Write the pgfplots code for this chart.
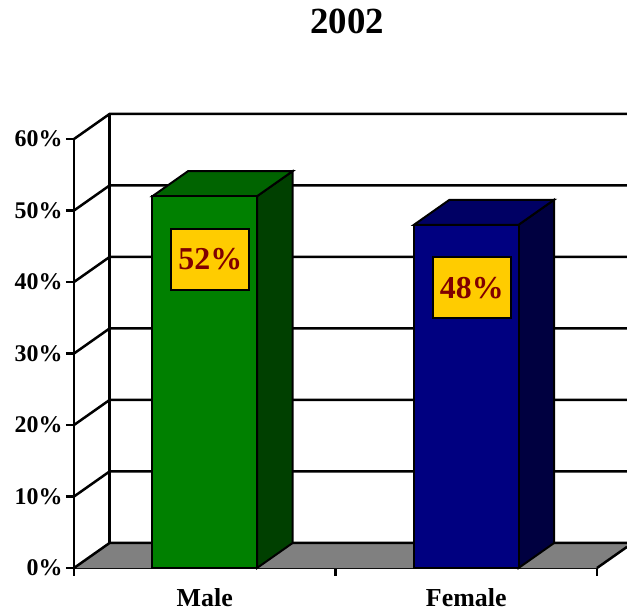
\documentclass[border=0pt]{standalone}
\usepackage{fontspec}
\setmainfont{Liberation Serif}
\usepackage{pgfplots}
\pgfplotsset{compat=1.18}

\definecolor{maleF}{HTML}{008000}
\definecolor{maleT}{HTML}{006400}
\definecolor{maleS}{HTML}{004000}
\definecolor{femF}{HTML}{000080}
\definecolor{femT}{HTML}{000064}
\definecolor{femS}{HTML}{000040}
\definecolor{lblbox}{HTML}{FFCC00}
\definecolor{lbltxt}{HTML}{800000}
\definecolor{floorgray}{HTML}{808080}

\begin{document}
\begin{tikzpicture}
\begin{axis}[name=ax, scale only axis, width=523bp, height=429bp,
  xmin=0, xmax=2, ymin=0, ymax=60, clip=false,
  axis x line*=bottom, axis y line*=left,
  axis line style={line width=2.5bp, -},
  every tick/.style={black, line width=2.5bp}, tick align=outside,
  major tick length=8bp,
  ytick={0,10,...,60}, yticklabel={\pgfmathprintnumber{\tick}\%},
  xtick={0,1,2}, xticklabels={},
  extra x ticks={0.5,1.5}, extra x tick labels={Male,Female},
  extra x tick style={tick style={draw=none}},
  /pgf/number format/assume math mode=true,
  yticklabel style={font=\fontsize{24}{26}\selectfont\bfseries},
  xticklabel style={font=\fontsize{26}{28}\selectfont\bfseries, yshift=-9bp},
  faces/.style={draw=black, line width=2bp},
  lbl/.style={nodes near coords={\pgfmathprintnumber{\pgfplotspointmeta}\%},
    every node near coord/.append style={anchor=center, yshift=-63bp, xshift=5.5bp,
      font=\fontsize{32}{34}\selectfont\bfseries, text=lbltxt, fill=lblbox,
      draw=black, line width=2bp, minimum width=78bp, minimum height=61bp, inner sep=0pt}},
]
% floor and back wall
\fill[floorgray] (axis cs:0,0) -- (axis cs:2,0) -- (axis cs:2.115,2.96) -- (axis cs:2.115,3.5) -- (axis cs:0.136,3.5) -- cycle;
\draw[line width=2.5bp] (axis cs:2,0) -- (axis cs:2.115,2.96);
\draw[line width=2.5bp] (axis cs:0.136,3.5) -- (axis cs:0.136,63.5);
\pgfplotsinvokeforeach{0,10,20,30,40,50,60}{
  \draw[line width=2.5bp] (axis cs:0,#1) -- (axis cs:0.136,#1+3.5) -- (axis cs:2.115,#1+3.5);
}
% Male
\addplot[faces, fill=maleS] coordinates {(0.7,0) (0.836,3.5) (0.836,55.5) (0.7,52)} -- cycle;
\addplot[faces, fill=maleT] coordinates {(0.3,52) (0.7,52) (0.836,55.5) (0.436,55.5)} -- cycle;
\addplot[ybar, bar width=0.4, bar shift=0pt, faces, fill=maleF, lbl] coordinates {(0.5,52)};
% Female
\addplot[faces, fill=femS] coordinates {(1.7,0) (1.836,3.5) (1.836,51.5) (1.7,48)} -- cycle;
\addplot[faces, fill=femT] coordinates {(1.3,48) (1.7,48) (1.836,51.5) (1.436,51.5)} -- cycle;
\addplot[ybar, bar width=0.4, bar shift=0pt, faces, fill=femF, lbl] coordinates {(1.5,48)};
\node[font=\fontsize{37}{39}\selectfont\bfseries] at (axis cs:1.044,76.4) {2002};
\end{axis}
\pgfresetboundingbox
\useasboundingbox ([shift={(-74bp,-45bp)}]ax.south west) rectangle ++(627bp,613bp);
\end{tikzpicture}
\end{document}
